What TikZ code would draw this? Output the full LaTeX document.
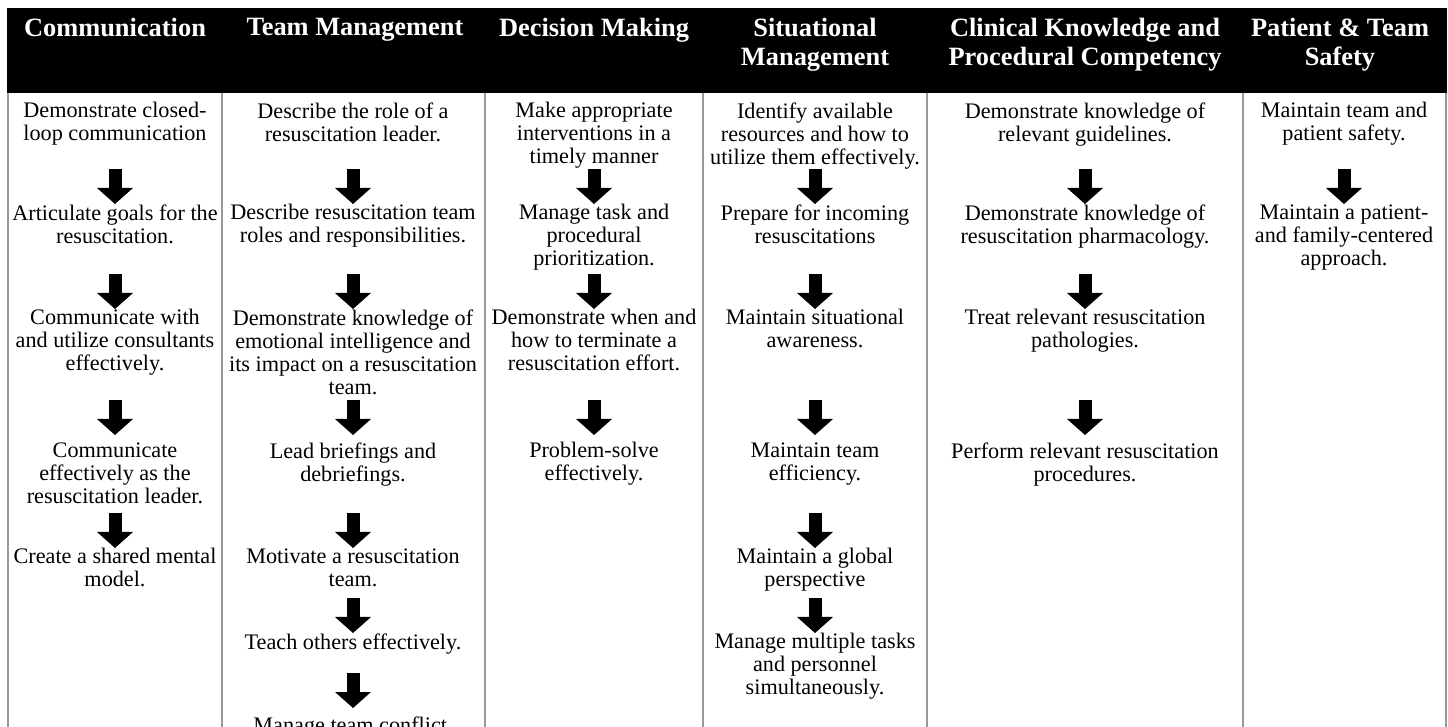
\documentclass[tikz,border=0pt]{standalone}
\usepackage{fontspec}
\setmainfont{Liberation Serif}
\usetikzlibrary{arrows.meta}
\usetikzlibrary{positioning}

\begin{document}
\begin{tikzpicture}[x=0.5pt, y=-0.5pt,
    item/.style={anchor=north, inner sep=0pt, align=center, font=\fontsize{11.1}{11.5}\selectfont},
    head/.style={anchor=north, inner sep=0pt, align=center, text=white, font=\fontsize{13.2}{14.5}\selectfont\bfseries},
    blk/.style={line width=6.5pt, -{Triangle[width=18pt, length=8pt, line width=0pt]}},
    rule/.style={draw=black!40, line width=1pt}]
    \useasboundingbox (0,0) rectangle (1448,727);

    % header band and column rules
    \fill [black] (7,8) rectangle (1447,93);
    \foreach \x in {8,222,485,703,927,1243,1446}
        \draw [rule] (\x,93) -- (\x,727);

    \node [head] (hcom) at (115,18) {Communication};
    \node [head] (hteam) at (355,18) {Team Management};
    \node [head] (hdec) at (594,18) {Decision Making};
    \node [head] (hsit) at (815,18) {Situational\\Management};
    \node [head] (hclin) at (1085,18) {Clinical Knowledge and\\Procedural Competency};
    \node [head] (hpat) at (1340,18) {Patient \& Team\\Safety};

    % Communication
    \node [item] (com1) at (115,102) {Demonstrate closed-\\loop communication};
    \node [item] (com2) at (115,204) {Articulate goals for the\\resuscitation.};
    \node [item] (com3) at (115,309) {Communicate with\\and utilize consultants\\effectively.};
    \node [item] (com4) at (115,442) {Communicate\\effectively as the\\resuscitation leader.};
    \node [item] (com5) at (115,548) {Create a shared mental\\model.};

    % Team Management
    \node [item] (team1) at (353,102) {Describe the role of a\\resuscitation leader.};
    \node [item] (team2) at (353,204) {Describe resuscitation team\\roles and responsibilities.};
    \node [item] (team3) at (353,309) {Demonstrate knowledge of\\emotional intelligence and\\its impact on a resuscitation\\team.};
    \node [item] (team4) at (353,442) {Lead briefings and\\debriefings.};
    \node [item] (team5) at (353,548) {Motivate a resuscitation\\team.};
    \node [item] (team6) at (353,633) {Teach others effectively.};
    \node [item] (team7) at (353,716) {Manage team conflict.};

    % Decision Making
    \node [item] (dec1) at (594,102) {Make appropriate\\interventions in a\\timely manner};
    \node [item] (dec2) at (594,204) {Manage task and\\procedural\\prioritization.};
    \node [item] (dec3) at (594,309) {Demonstrate when and\\how to terminate a\\resuscitation effort.};
    \node [item] (dec4) at (594,442) {Problem-solve\\effectively.};

    % Situational Management
    \node [item] (sit1) at (815,102) {Identify available\\resources and how to\\utilize them effectively.};
    \node [item] (sit2) at (815,204) {Prepare for incoming\\resuscitations};
    \node [item] (sit3) at (815,309) {Maintain situational\\awareness.};
    \node [item] (sit4) at (815,442) {Maintain team\\efficiency.};
    \node [item] (sit5) at (815,548) {Maintain a global\\perspective};
    \node [item] (sit6) at (815,633) {Manage multiple tasks\\and personnel\\simultaneously.};

    % Clinical Knowledge and Procedural Competency
    \node [item] (clin1) at (1085,102) {Demonstrate knowledge of\\relevant guidelines.};
    \node [item] (clin2) at (1085,204) {Demonstrate knowledge of\\resuscitation pharmacology.};
    \node [item] (clin3) at (1085,309) {Treat relevant resuscitation\\pathologies.};
    \node [item] (clin4) at (1085,442) {Perform relevant resuscitation\\procedures.};

    % Patient & Team Safety
    \node [item] (pat1) at (1344,102) {Maintain team and\\patient safety.};
    \node [item] (pat2) at (1344,204) {Maintain a patient-\\and family-centered\\approach.};

    % block arrows down to each item (gap above the text in pt)
    \foreach \n/\g in {com2/0,com3/0,com4/3.5,com5/0,
                       team2/0,team3/0,team4/3.5,team5/0,team6/0,team7/4,
                       dec2/0,dec3/0,dec4/3.5,
                       sit2/0,sit3/0,sit4/3.5,sit5/0,sit6/0,
                       clin2/0,clin3/0,clin4/3.5,
                       pat2/0}
        \draw [blk] ([yshift=17.5pt+\g pt]\n.north) -- ([yshift=\g pt]\n.north);
\end{tikzpicture}
\end{document}
